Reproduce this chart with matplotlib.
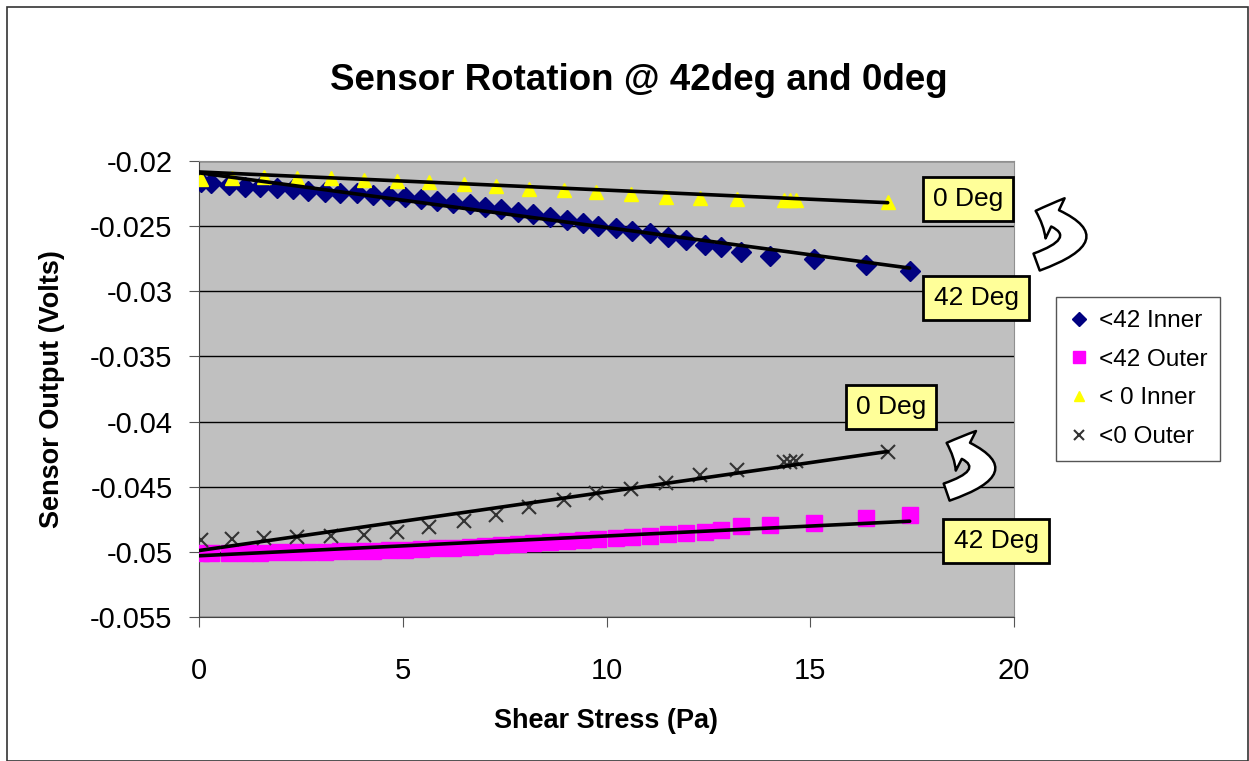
import numpy as np
import matplotlib
matplotlib.use("Agg")
import matplotlib.pyplot as plt
from matplotlib.patches import FancyArrowPatch, Rectangle
from matplotlib.ticker import FuncFormatter

plt.rcParams['font.family'] = ['Liberation Sans', 'DejaVu Sans']

# 42 deg runs (inner and outer sensor share the shear stress points)
x_42 = [0.05, 0.3, 0.73, 1.13, 1.5, 1.91, 2.31, 2.68, 3.09, 3.46, 3.87, 4.26, 4.66,
        5.05, 5.46, 5.83, 6.23, 6.65, 7.01, 7.42, 7.82, 8.19, 8.61, 9.02, 9.42, 9.79,
        10.23, 10.62, 11.06, 11.5, 11.96, 12.41, 12.82, 13.31, 14.0, 15.1, 16.38, 17.44]
inner_42 = [-0.02159, -0.02171, -0.02184, -0.02197, -0.02202, -0.02209, -0.02217, -0.02228,
            -0.02235, -0.02243, -0.02248, -0.02261, -0.02268, -0.02278, -0.02294, -0.02305,
            -0.0232, -0.02332, -0.02351, -0.02368, -0.02389, -0.02407, -0.02427, -0.02453,
            -0.02478, -0.02499, -0.02514, -0.02541, -0.02555, -0.02583, -0.02606, -0.02644,
            -0.0266, -0.02696, -0.02729, -0.02752, -0.02798, -0.02841]
outer_42 = [-0.0501, -0.05009, -0.05008, -0.05006, -0.05005, -0.05004, -0.05002, -0.05001,
            -0.04999, -0.04997, -0.04994, -0.04991, -0.04987, -0.04983, -0.04978, -0.04973,
            -0.04968, -0.04962, -0.04955, -0.04949, -0.04942, -0.04935, -0.04927, -0.04919,
            -0.04911, -0.04903, -0.04895, -0.04886, -0.04877, -0.04866, -0.04855, -0.04845,
            -0.04833, -0.04805, -0.04792, -0.0478, -0.04741, -0.04715]

# 0 deg runs
x_0 = [0.05, 0.8, 1.6, 2.4, 3.25, 4.05, 4.85, 5.65, 6.5, 7.3, 8.1, 8.95, 9.75, 10.6,
       11.45, 12.3, 13.2, 14.35, 14.5, 14.65, 16.9]
inner_0 = [-0.0214, -0.02133, -0.02125, -0.02133, -0.02133, -0.02146, -0.02151, -0.02163,
           -0.02175, -0.02195, -0.02212, -0.02226, -0.0224, -0.02253, -0.02274, -0.02286,
           -0.02288, -0.02297, -0.02299, -0.023, -0.02312]
outer_0 = [-0.04907, -0.04902, -0.04894, -0.04886, -0.04881, -0.04869, -0.04851, -0.0481,
           -0.04761, -0.04715, -0.04652, -0.046, -0.04549, -0.0452, -0.04472, -0.04409,
           -0.0437, -0.04312, -0.04307, -0.04302, -0.0423]

# linear trend lines as drawn in the chart: (intercept, slope)
trend_42_inner = (-0.02091, -0.000419)
trend_42_outer = (-0.0503, 0.000152)
trend_0_inner = (-0.02084, -0.0001396)
trend_0_outer = (-0.0499, 0.00045)

labels = ['<42 Inner', '<42 Outer', '< 0 Inner', '<0 Outer']
x_ticks = [0, 5, 10, 15, 20]
y_ticks = [-0.055, -0.05, -0.045, -0.04, -0.035, -0.03, -0.025, -0.02]

W, H = 1249, 761
fig = plt.figure(figsize=(W / 100, H / 100), dpi=100)
ax = fig.add_axes([199 / W, 1 - 617 / H, (1014 - 199) / W, (617 - 161) / H])
ax.set_facecolor('#C0C0C0')

ax.plot(x_42, inner_42, 'D', color='#000080', ms=10.5, mec='#000080', label=labels[0], zorder=3)
ax.plot(x_42, outer_42, 's', color='#FF00FF', ms=11.5, mec='#FF00FF', label=labels[1], zorder=3)
ax.plot(x_0, inner_0, '^', color='#FFFF00', ms=10.5, mec='#FFFF00', label=labels[2], zorder=3)
ax.plot(x_0, outer_0, 'x', color='#333333', ms=9.5, mew=1.5, label=labels[3], zorder=3)

for xs, (b, m) in [(x_42, trend_42_inner), (x_42, trend_42_outer),
                   (x_0, trend_0_inner), (x_0, trend_0_outer)]:
    xx = np.array([0, max(xs)])
    ax.plot(xx, b + m * xx, color='black', lw=2.6, solid_capstyle='round', zorder=4)

ax.set_xlim(0, 20)
ax.set_ylim(-0.055, -0.02)
ax.set_xticks(x_ticks)
ax.set_yticks(y_ticks)
ax.yaxis.set_major_formatter(FuncFormatter(lambda v, p: '%g' % v))
ax.grid(axis='y', color='black', lw=1.0)
ax.set_axisbelow(True)
ax.tick_params(axis='both', labelsize=21, length=7, color='#555555', direction='out')
ax.tick_params(axis='x', pad=22)
ax.tick_params(axis='y', pad=12)
for side in ['top', 'right']:
    ax.spines[side].set_color('#909090')
for side in ['left', 'bottom']:
    ax.spines[side].set_color('#444444')

ax.set_xlabel('Shear Stress (Pa)', fontsize=19.5, fontweight='bold', labelpad=16)
ax.set_ylabel('Sensor Output (Volts)', fontsize=19.5, fontweight='bold', labelpad=18)
fig.text(639 / W, 1 - 80 / H, 'Sensor Rotation @ 42deg and 0deg', fontsize=26.5,
         fontweight='bold', ha='center', va='center')

# callout boxes
box = dict(boxstyle='square,pad=0.38', facecolor='#FFFF99', edgecolor='black', lw=2)
for (px, py, txt) in [(968, 199, '0 Deg'), (976, 298, '42 Deg'),
                      (891, 407, '0 Deg'), (996, 541, '42 Deg')]:
    fig.text(px / W, 1 - py / H, txt, fontsize=19, ha='center', va='center', bbox=box, zorder=5)

# curved arrows from 42 Deg to 0 Deg
for tail, tip in [((1034, 263), (1033, 210)), ((944, 493), (944, 442))]:
    arr = FancyArrowPatch((tail[0] / W, 1 - tail[1] / H), (tip[0] / W, 1 - tip[1] / H),
                          transform=fig.transFigure, connectionstyle='arc3,rad=1.5',
                          arrowstyle='simple,head_length=0.75,head_width=1.6,tail_width=0.65',
                          mutation_scale=20, facecolor='white', edgecolor='black', lw=1.8,
                          zorder=6)
    fig.patches.append(arr)

leg = fig.legend(loc='upper left', bbox_to_anchor=(1056 / W, 1 - 297 / H), borderaxespad=0,
                 fontsize=17.5, frameon=True, fancybox=False, edgecolor='#555555',
                 framealpha=1, handlelength=0.8, handletextpad=0.4, labelspacing=0.68,
                 markerscale=0.72, borderpad=0.55)
leg.get_frame().set_linewidth(1.0)

fig.patches.append(Rectangle((7 / W, 0), 1241 / W, 1 - 7 / H, transform=fig.transFigure,
                             fill=False, edgecolor='#333333', lw=1.2))

fig.savefig('out.png', dpi=100)
